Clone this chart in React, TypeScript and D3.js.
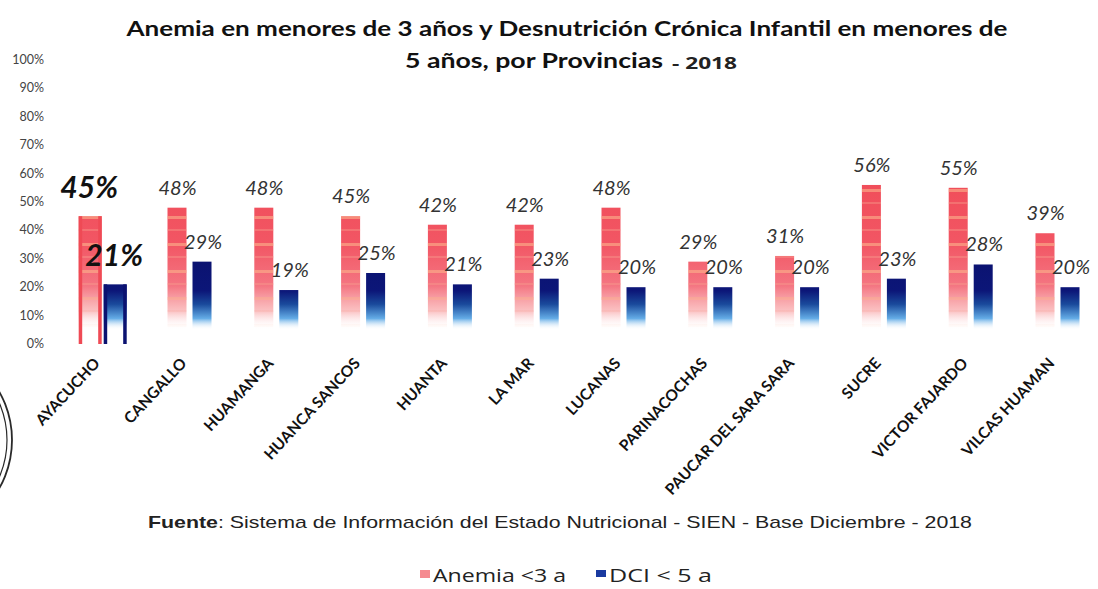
import React from 'react';
import * as d3 from 'd3';

const provinces = ['AYACUCHO', 'CANGALLO', 'HUAMANGA', 'HUANCA SANCOS', 'HUANTA', 'LA MAR', 'LUCANAS', 'PARINACOCHAS', 'PAUCAR DEL SARA SARA', 'SUCRE', 'VICTOR FAJARDO', 'VILCAS HUAMAN'];
const anemia = [45, 48, 48, 45, 42, 42, 48, 29, 31, 56, 55, 39];
const dci = [21, 29, 19, 25, 21, 23, 20, 20, 20, 23, 28, 20];
const yTicks = [0, 10, 20, 30, 40, 50, 60, 70, 80, 90, 100];
const seriesNames = ['Anemia <3 a', 'DCI < 5 a'];
const titleLine1 = 'Anemia en menores de 3 años y Desnutrición  Crónica Infantil en menores de';
const titleLine2 = '5 años, por  Provincias';
const titleYear = '- 2018';
const sourceBold = 'Fuente';
const sourceText = ': Sistema de Información  del Estado Nutricional - SIEN - Base  Diciembre  -  2018';

const W = 1098;
const H = 589;

export default function App() {
  const x = d3.scaleBand<string>().domain(provinces).range([59.3, 1100.9]).padding(0);
  const y = d3.scaleLinear().domain([0, 100]).range([344, 60]);
  const bw = x.bandwidth();
  const fadeTop = y(60);
  const fadeBot = y(5);
  const blueTop = y(30);

  return (
    <svg width={W} height={H} style={{ position: 'absolute', left: 0, top: 0, background: '#fff' }}>
      <defs>
        <linearGradient id="pinkG" gradientUnits="userSpaceOnUse" x1={0} y1={fadeTop} x2={0} y2={fadeBot}>
          <stop offset="0" stopColor="#f04c58" />
          <stop offset="0.45" stopColor="#f25664" />
          <stop offset="0.72" stopColor="#f47682" />
          <stop offset="0.88" stopColor="#f9acae" stopOpacity="0.75" />
          <stop offset="1" stopColor="#ffffff" stopOpacity="0" />
        </linearGradient>
        <linearGradient id="blueG" gradientUnits="userSpaceOnUse" x1={0} y1={blueTop} x2={0} y2={fadeBot}>
          <stop offset="0" stopColor="#0b1270" />
          <stop offset="0.45" stopColor="#0c1678" />
          <stop offset="0.64" stopColor="#1a4a9c" />
          <stop offset="0.84" stopColor="#64ace6" />
          <stop offset="1" stopColor="#ffffff" stopOpacity="0" />
        </linearGradient>
        <linearGradient id="fadeMaskG" gradientUnits="userSpaceOnUse" x1={0} y1={fadeTop} x2={0} y2={fadeBot}>
          <stop offset="0" stopColor="#fff" />
          <stop offset="0.7" stopColor="#fff" />
          <stop offset="1" stopColor="#000" />
        </linearGradient>
        <mask id="fadeMask" maskUnits="userSpaceOnUse" x={0} y={0} width={W} height={H}>
          <rect x={0} y={0} width={W} height={H} fill="url(#fadeMaskG)" />
        </mask>
        <pattern id="stripes" patternUnits="userSpaceOnUse" width={10} height={27}>
          <rect x={0} y={0} width={10} height={3} fill="#fbb48c" opacity={0.6} />
          <rect x={0} y={13} width={10} height={2} fill="#f8a08e" opacity={0.4} />
        </pattern>
      </defs>

      {/* seal at left edge */}
      <g fill="none" stroke="#2a2a2a">
        <circle cx={-86} cy={440} r={98} strokeWidth={1.8} />
        <circle cx={-86} cy={440} r={93} strokeWidth={1.2} />
      </g>

      {/* title */}
      <text x={567} y={36} textAnchor="middle" fontFamily="Lato, 'Open Sans', sans-serif" fontWeight="bold" fontSize={21} fill="#111" textLength={881} lengthAdjust="spacingAndGlyphs">{titleLine1}</text>
      <text x={405} y={68} fontFamily="Lato, 'Open Sans', sans-serif" fontWeight="bold" fontSize={21} fill="#111" textLength={258} lengthAdjust="spacingAndGlyphs">{titleLine2}</text>
      <text x={672} y={69} fontFamily="'Open Sans', sans-serif" fontWeight="bold" fontSize={16} fill="#222" textLength={65} lengthAdjust="spacingAndGlyphs">{titleYear}</text>

      {/* y axis tick labels */}
      <g fontFamily="Lato, 'Open Sans', sans-serif" fontSize={12.5} fill="#444" textAnchor="end">
        {yTicks.map((t) => (
          <text key={t} x={44} y={y(t) + 4}>{`${t}%`}</text>
        ))}
      </g>

      {/* bars */}
      {provinces.map((p, i) => {
        const c = (x(p) as number) + bw / 2;
        const big = i === 0;
        const w = big ? 23 : 19;
        const gap = big ? 2 : 6;
        const ax = c - gap / 2 - w;
        const dx = c + gap / 2;
        const aTop = y(anemia[i]);
        const dTop = y(dci[i]);
        return (
          <g key={p}>
            <rect x={ax} y={aTop} width={w} height={y(0) - aTop} fill="url(#pinkG)" />
            <rect x={ax} y={aTop} width={w} height={y(0) - aTop} fill="url(#stripes)" mask="url(#fadeMask)" />
            <rect x={dx} y={dTop} width={w} height={y(0) - dTop} fill="url(#blueG)" />
            {big && (
              <g>
                <rect x={ax} y={aTop} width={3.5} height={y(0) - aTop} fill="#ef4a55" />
                <rect x={ax + w - 3.5} y={aTop} width={3.5} height={y(0) - aTop} fill="#ef4a55" />
                <rect x={dx} y={dTop} width={3.5} height={y(0) - dTop} fill="#0b1270" />
                <rect x={dx + w - 3.5} y={dTop} width={3.5} height={y(0) - dTop} fill="#0b1270" />
              </g>
            )}
            {big ? (
              <g fontFamily="Lato, 'Open Sans', sans-serif" fontStyle="italic" fontWeight="bold" fontSize={30} fill="#111" textAnchor="middle">
                <text x={ax + w / 2 - 1} y={aTop - 18}>{`${anemia[i]}%`}</text>
                <text x={dx + w / 2 - 1} y={dTop - 18}>{`${dci[i]}%`}</text>
              </g>
            ) : (
              <g fontFamily="Lato, 'Open Sans', sans-serif" fontStyle="italic" fontSize={20} fill="#333" textAnchor="middle">
                <text x={ax + w / 2 + 0.5} y={aTop - 13}>{`${anemia[i]}%`}</text>
                <text x={dx + w / 2 + 1} y={dTop - 13}>{`${dci[i]}%`}</text>
              </g>
            )}
          </g>
        );
      })}

      {/* x axis labels */}
      <g fontFamily="Lato, 'Open Sans', sans-serif" fontWeight="bold" fontSize={15.5} fill="#111" textAnchor="end">
        {provinces.map((p) => {
          const c = (x(p) as number) + bw / 2;
          return (
            <text key={p} transform={`translate(${c - 2},${364}) rotate(-47)`}>{p}</text>
          );
        })}
      </g>

      {/* source */}
      <text x={148} y={528} fontFamily="'Liberation Sans', Arial, sans-serif" fontSize={17} fill="#222" textLength={824} lengthAdjust="spacingAndGlyphs">
        <tspan fontWeight="bold">{sourceBold}</tspan>
        <tspan>{sourceText}</tspan>
      </text>

      {/* legend */}
      <g fontFamily="'Open Sans', sans-serif" fontSize={18} fill="#222">
        <rect x={420} y={570} width={10} height={8} fill="#f58a90" />
        <text x={433} y={582} textLength={133} lengthAdjust="spacingAndGlyphs">{seriesNames[0]}</text>
        <rect x={596} y={570} width={10} height={7} fill="#1a3aa0" />
        <text x={609} y={582} textLength={103} lengthAdjust="spacingAndGlyphs">{seriesNames[1]}</text>
      </g>
    </svg>
  );
}
